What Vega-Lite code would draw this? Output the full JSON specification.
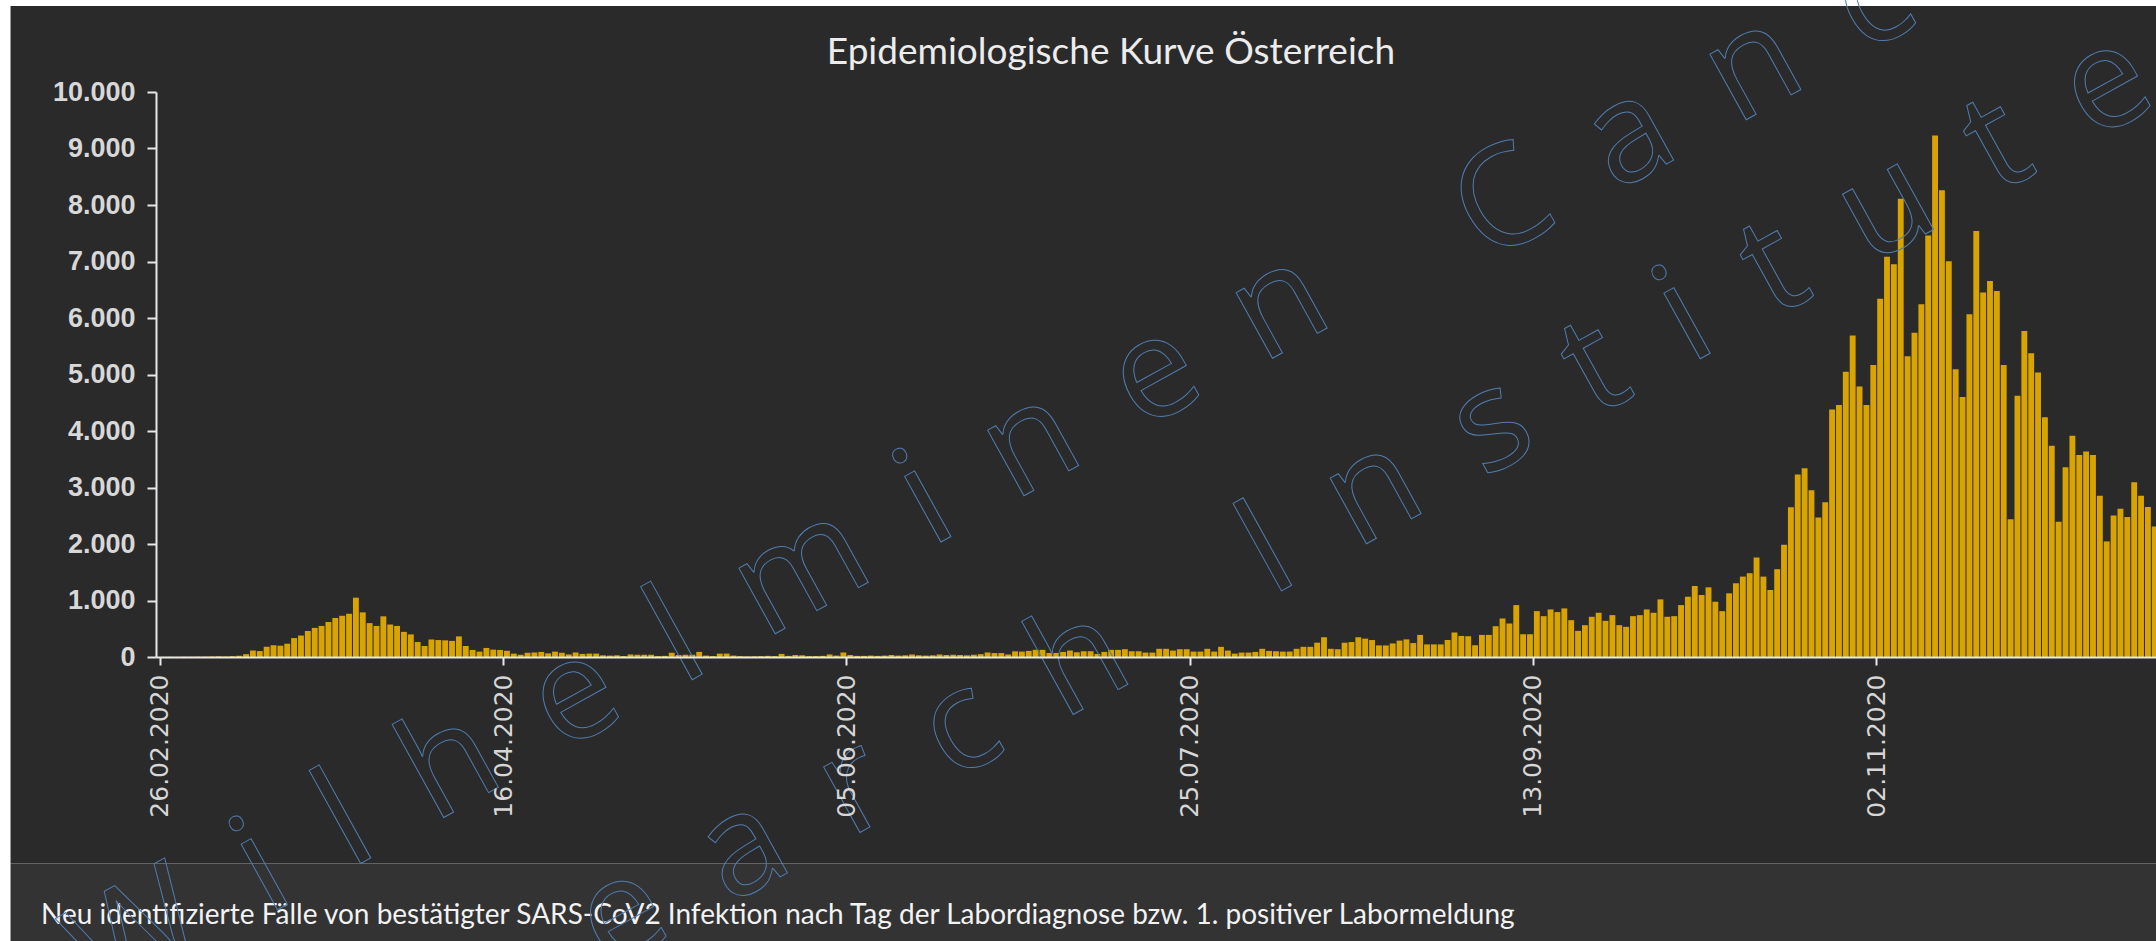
{
  "$schema": "https://vega.github.io/schema/vega-lite/v6.json",
  "background": "#ffffff",
  "autosize": {"type": "none"},
  "padding": {"left": 156, "top": 92, "right": 0, "bottom": 284},
  "width": 2000,
  "height": 565,
  "config": {
    "locale": {"number": {"decimal": ",", "thousands": ".", "grouping": [3], "currency": ["", " €"]}},
    "view": {"stroke": null},
    "font": "Lato"
  },
  "layer": [
    {
      "data": {"values": [{}]},
      "mark": {"type": "rect", "color": "#2a2a2a", "clip": false},
      "encoding": {
        "x": {"datum": {"year": 2020, "month": 2, "date": 4, "hours": 6, "minutes": 30, "utc": true}},
        "x2": {"datum": {"year": 2020, "month": 12, "date": 31, "utc": true}},
        "y": {"datum": 11522},
        "y2": {"datum": -3655}
      }
    },
    {
      "data": {"values": [{}]},
      "mark": {"type": "rect", "color": "#333333", "clip": false},
      "encoding": {
        "x": {"datum": {"year": 2020, "month": 2, "date": 4, "hours": 6, "minutes": 30, "utc": true}},
        "x2": {"datum": {"year": 2020, "month": 12, "date": 31, "utc": true}},
        "y": {"datum": -3655},
        "y2": {"datum": -5400}
      }
    },
    {
      "data": {
        "values": [
          {"d": "2020-02-26", "n": 2}, {"d": "2020-02-27", "n": 3}, {"d": "2020-02-28", "n": 2}, {"d": "2020-02-29", "n": 4},
          {"d": "2020-03-01", "n": 4}, {"d": "2020-03-02", "n": 5}, {"d": "2020-03-03", "n": 6}, {"d": "2020-03-04", "n": 8},
          {"d": "2020-03-05", "n": 12}, {"d": "2020-03-06", "n": 8}, {"d": "2020-03-07", "n": 14}, {"d": "2020-03-08", "n": 22},
          {"d": "2020-03-09", "n": 50}, {"d": "2020-03-10", "n": 115}, {"d": "2020-03-11", "n": 105}, {"d": "2020-03-12", "n": 180},
          {"d": "2020-03-13", "n": 210}, {"d": "2020-03-14", "n": 200}, {"d": "2020-03-15", "n": 235}, {"d": "2020-03-16", "n": 335},
          {"d": "2020-03-17", "n": 380}, {"d": "2020-03-18", "n": 460}, {"d": "2020-03-19", "n": 515}, {"d": "2020-03-20", "n": 550},
          {"d": "2020-03-21", "n": 620}, {"d": "2020-03-22", "n": 690}, {"d": "2020-03-23", "n": 730}, {"d": "2020-03-24", "n": 765},
          {"d": "2020-03-25", "n": 1050}, {"d": "2020-03-26", "n": 790}, {"d": "2020-03-27", "n": 600}, {"d": "2020-03-28", "n": 550},
          {"d": "2020-03-29", "n": 720}, {"d": "2020-03-30", "n": 575}, {"d": "2020-03-31", "n": 550},
          {"d": "2020-04-01", "n": 445}, {"d": "2020-04-02", "n": 400}, {"d": "2020-04-03", "n": 265}, {"d": "2020-04-04", "n": 195},
          {"d": "2020-04-05", "n": 310}, {"d": "2020-04-06", "n": 300}, {"d": "2020-04-07", "n": 295}, {"d": "2020-04-08", "n": 285},
          {"d": "2020-04-09", "n": 365}, {"d": "2020-04-10", "n": 195}, {"d": "2020-04-11", "n": 125}, {"d": "2020-04-12", "n": 95},
          {"d": "2020-04-13", "n": 160}, {"d": "2020-04-14", "n": 130}, {"d": "2020-04-15", "n": 125}, {"d": "2020-04-16", "n": 110},
          {"d": "2020-04-17", "n": 60}, {"d": "2020-04-18", "n": 40}, {"d": "2020-04-19", "n": 75}, {"d": "2020-04-20", "n": 80},
          {"d": "2020-04-21", "n": 90}, {"d": "2020-04-22", "n": 65}, {"d": "2020-04-23", "n": 95}, {"d": "2020-04-24", "n": 75},
          {"d": "2020-04-25", "n": 45}, {"d": "2020-04-26", "n": 80}, {"d": "2020-04-27", "n": 55}, {"d": "2020-04-28", "n": 60},
          {"d": "2020-04-29", "n": 60}, {"d": "2020-04-30", "n": 30},
          {"d": "2020-05-01", "n": 25}, {"d": "2020-05-02", "n": 30}, {"d": "2020-05-03", "n": 15}, {"d": "2020-05-04", "n": 45},
          {"d": "2020-05-05", "n": 40}, {"d": "2020-05-06", "n": 40}, {"d": "2020-05-07", "n": 40}, {"d": "2020-05-08", "n": 15},
          {"d": "2020-05-09", "n": 20}, {"d": "2020-05-10", "n": 75}, {"d": "2020-05-11", "n": 35}, {"d": "2020-05-12", "n": 40},
          {"d": "2020-05-13", "n": 40}, {"d": "2020-05-14", "n": 90}, {"d": "2020-05-15", "n": 25}, {"d": "2020-05-16", "n": 15},
          {"d": "2020-05-17", "n": 60}, {"d": "2020-05-18", "n": 60}, {"d": "2020-05-19", "n": 25}, {"d": "2020-05-20", "n": 15},
          {"d": "2020-05-21", "n": 10}, {"d": "2020-05-22", "n": 12}, {"d": "2020-05-23", "n": 15}, {"d": "2020-05-24", "n": 20},
          {"d": "2020-05-25", "n": 15}, {"d": "2020-05-26", "n": 55}, {"d": "2020-05-27", "n": 20}, {"d": "2020-05-28", "n": 35},
          {"d": "2020-05-29", "n": 30}, {"d": "2020-05-30", "n": 15}, {"d": "2020-05-31", "n": 15},
          {"d": "2020-06-01", "n": 20}, {"d": "2020-06-02", "n": 45}, {"d": "2020-06-03", "n": 25}, {"d": "2020-06-04", "n": 80},
          {"d": "2020-06-05", "n": 35}, {"d": "2020-06-06", "n": 20}, {"d": "2020-06-07", "n": 20}, {"d": "2020-06-08", "n": 25},
          {"d": "2020-06-09", "n": 20}, {"d": "2020-06-10", "n": 25}, {"d": "2020-06-11", "n": 35}, {"d": "2020-06-12", "n": 25},
          {"d": "2020-06-13", "n": 30}, {"d": "2020-06-14", "n": 45}, {"d": "2020-06-15", "n": 30}, {"d": "2020-06-16", "n": 25},
          {"d": "2020-06-17", "n": 30}, {"d": "2020-06-18", "n": 45}, {"d": "2020-06-19", "n": 35}, {"d": "2020-06-20", "n": 40},
          {"d": "2020-06-21", "n": 35}, {"d": "2020-06-22", "n": 30}, {"d": "2020-06-23", "n": 40}, {"d": "2020-06-24", "n": 50},
          {"d": "2020-06-25", "n": 80}, {"d": "2020-06-26", "n": 70}, {"d": "2020-06-27", "n": 70}, {"d": "2020-06-28", "n": 45},
          {"d": "2020-06-29", "n": 100}, {"d": "2020-06-30", "n": 96},
          {"d": "2020-07-01", "n": 108}, {"d": "2020-07-02", "n": 127}, {"d": "2020-07-03", "n": 127}, {"d": "2020-07-04", "n": 72},
          {"d": "2020-07-05", "n": 72}, {"d": "2020-07-06", "n": 90}, {"d": "2020-07-07", "n": 114}, {"d": "2020-07-08", "n": 84},
          {"d": "2020-07-09", "n": 102}, {"d": "2020-07-10", "n": 102}, {"d": "2020-07-11", "n": 54}, {"d": "2020-07-12", "n": 90},
          {"d": "2020-07-13", "n": 126}, {"d": "2020-07-14", "n": 126}, {"d": "2020-07-15", "n": 138}, {"d": "2020-07-16", "n": 102},
          {"d": "2020-07-17", "n": 102}, {"d": "2020-07-18", "n": 78}, {"d": "2020-07-19", "n": 78}, {"d": "2020-07-20", "n": 145},
          {"d": "2020-07-21", "n": 145}, {"d": "2020-07-22", "n": 114}, {"d": "2020-07-23", "n": 138}, {"d": "2020-07-24", "n": 138},
          {"d": "2020-07-25", "n": 96}, {"d": "2020-07-26", "n": 96}, {"d": "2020-07-27", "n": 145}, {"d": "2020-07-28", "n": 96},
          {"d": "2020-07-29", "n": 180}, {"d": "2020-07-30", "n": 114}, {"d": "2020-07-31", "n": 60},
          {"d": "2020-08-01", "n": 78}, {"d": "2020-08-02", "n": 78}, {"d": "2020-08-03", "n": 90}, {"d": "2020-08-04", "n": 145},
          {"d": "2020-08-05", "n": 108}, {"d": "2020-08-06", "n": 102}, {"d": "2020-08-07", "n": 96}, {"d": "2020-08-08", "n": 96},
          {"d": "2020-08-09", "n": 145}, {"d": "2020-08-10", "n": 180}, {"d": "2020-08-11", "n": 180}, {"d": "2020-08-12", "n": 253},
          {"d": "2020-08-13", "n": 350}, {"d": "2020-08-14", "n": 145}, {"d": "2020-08-15", "n": 138}, {"d": "2020-08-16", "n": 253},
          {"d": "2020-08-17", "n": 265}, {"d": "2020-08-18", "n": 350}, {"d": "2020-08-19", "n": 325}, {"d": "2020-08-20", "n": 300},
          {"d": "2020-08-21", "n": 205}, {"d": "2020-08-22", "n": 205}, {"d": "2020-08-23", "n": 240}, {"d": "2020-08-24", "n": 290},
          {"d": "2020-08-25", "n": 312}, {"d": "2020-08-26", "n": 247}, {"d": "2020-08-27", "n": 391}, {"d": "2020-08-28", "n": 223},
          {"d": "2020-08-29", "n": 223}, {"d": "2020-08-30", "n": 223}, {"d": "2020-08-31", "n": 301},
          {"d": "2020-09-01", "n": 434}, {"d": "2020-09-02", "n": 373}, {"d": "2020-09-03", "n": 368}, {"d": "2020-09-04", "n": 208},
          {"d": "2020-09-05", "n": 391}, {"d": "2020-09-06", "n": 391}, {"d": "2020-09-07", "n": 545}, {"d": "2020-09-08", "n": 682},
          {"d": "2020-09-09", "n": 593}, {"d": "2020-09-10", "n": 919}, {"d": "2020-09-11", "n": 403}, {"d": "2020-09-12", "n": 403},
          {"d": "2020-09-13", "n": 812}, {"d": "2020-09-14", "n": 723}, {"d": "2020-09-15", "n": 842}, {"d": "2020-09-16", "n": 795},
          {"d": "2020-09-17", "n": 860}, {"d": "2020-09-18", "n": 652}, {"d": "2020-09-19", "n": 462}, {"d": "2020-09-20", "n": 563},
          {"d": "2020-09-21", "n": 712}, {"d": "2020-09-22", "n": 783}, {"d": "2020-09-23", "n": 640}, {"d": "2020-09-24", "n": 741},
          {"d": "2020-09-25", "n": 563}, {"d": "2020-09-26", "n": 534}, {"d": "2020-09-27", "n": 723}, {"d": "2020-09-28", "n": 741},
          {"d": "2020-09-29", "n": 842}, {"d": "2020-09-30", "n": 783},
          {"d": "2020-10-01", "n": 1020}, {"d": "2020-10-02", "n": 712}, {"d": "2020-10-03", "n": 723}, {"d": "2020-10-04", "n": 919},
          {"d": "2020-10-05", "n": 1067}, {"d": "2020-10-06", "n": 1257}, {"d": "2020-10-07", "n": 1097}, {"d": "2020-10-08", "n": 1233},
          {"d": "2020-10-09", "n": 978}, {"d": "2020-10-10", "n": 812}, {"d": "2020-10-11", "n": 1127}, {"d": "2020-10-12", "n": 1305},
          {"d": "2020-10-13", "n": 1423}, {"d": "2020-10-14", "n": 1483}, {"d": "2020-10-15", "n": 1761}, {"d": "2020-10-16", "n": 1423},
          {"d": "2020-10-17", "n": 1186}, {"d": "2020-10-18", "n": 1554}, {"d": "2020-10-19", "n": 1987}, {"d": "2020-10-20", "n": 2651},
          {"d": "2020-10-21", "n": 3232}, {"d": "2020-10-22", "n": 3340}, {"d": "2020-10-23", "n": 2950}, {"d": "2020-10-24", "n": 2470},
          {"d": "2020-10-25", "n": 2741}, {"d": "2020-10-26", "n": 4380}, {"d": "2020-10-27", "n": 4459}, {"d": "2020-10-28", "n": 5049},
          {"d": "2020-10-29", "n": 5692}, {"d": "2020-10-30", "n": 4787}, {"d": "2020-10-31", "n": 4459},
          {"d": "2020-11-01", "n": 5167}, {"d": "2020-11-02", "n": 6341}, {"d": "2020-11-03", "n": 7082}, {"d": "2020-11-04", "n": 6950},
          {"d": "2020-11-05", "n": 8111}, {"d": "2020-11-06", "n": 5324}, {"d": "2020-11-07", "n": 5737}, {"d": "2020-11-08", "n": 6242},
          {"d": "2020-11-09", "n": 7462}, {"d": "2020-11-10", "n": 9232}, {"d": "2020-11-11", "n": 8262}, {"d": "2020-11-12", "n": 7003},
          {"d": "2020-11-13", "n": 5095}, {"d": "2020-11-14", "n": 4603}, {"d": "2020-11-15", "n": 6065}, {"d": "2020-11-16", "n": 7541},
          {"d": "2020-11-17", "n": 6452}, {"d": "2020-11-18", "n": 6655}, {"d": "2020-11-19", "n": 6478}, {"d": "2020-11-20", "n": 5167},
          {"d": "2020-11-21", "n": 2439}, {"d": "2020-11-22", "n": 4623}, {"d": "2020-11-23", "n": 5770}, {"d": "2020-11-24", "n": 5377},
          {"d": "2020-11-25", "n": 5036}, {"d": "2020-11-26", "n": 4242}, {"d": "2020-11-27", "n": 3738}, {"d": "2020-11-28", "n": 2393},
          {"d": "2020-11-29", "n": 3357}, {"d": "2020-11-30", "n": 3915},
          {"d": "2020-12-01", "n": 3574}, {"d": "2020-12-02", "n": 3639}, {"d": "2020-12-03", "n": 3574}, {"d": "2020-12-04", "n": 2852},
          {"d": "2020-12-05", "n": 2046}, {"d": "2020-12-06", "n": 2505}, {"d": "2020-12-07", "n": 2623}, {"d": "2020-12-08", "n": 2479},
          {"d": "2020-12-09", "n": 3095}, {"d": "2020-12-10", "n": 2852}, {"d": "2020-12-11", "n": 2656}, {"d": "2020-12-12", "n": 2308}
        ]
      },
      "mark": {"type": "bar", "color": "#d9a400", "clip": true},
      "encoding": {
        "x": {
          "field": "d",
          "type": "temporal",
          "timeUnit": "utcyearmonthdate",
          "scale": {
            "type": "utc",
            "domain": [
              {"year": 2020, "month": 2, "date": 25, "hours": 11, "utc": true},
              {"year": 2020, "month": 12, "date": 12, "hours": 18, "utc": true}
            ]
          },
          "axis": {
            "title": null,
            "grid": false,
            "zindex": 1,
            "values": [
              {"year": 2020, "month": 2, "date": 26, "utc": true},
              {"year": 2020, "month": 4, "date": 16, "utc": true},
              {"year": 2020, "month": 6, "date": 5, "utc": true},
              {"year": 2020, "month": 7, "date": 25, "utc": true},
              {"year": 2020, "month": 9, "date": 13, "utc": true},
              {"year": 2020, "month": 11, "date": 2, "utc": true}
            ],
            "labelExpr": "utcFormat(datum.value, '%d.%m.%Y')",
            "labelAngle": -90,
            "labelFont": "DejaVu Sans",
            "labelFontSize": 25,
            "labelColor": "#d6d6d6",
            "labelPadding": 9,
            "labelFlush": false,
            "labelOverlap": false,
            "tickColor": "#e8e8e8",
            "tickSize": 8,
            "tickWidth": 2,
            "domainColor": "#e8e8e8",
            "domainWidth": 2
          }
        },
        "y": {
          "field": "n",
          "type": "quantitative",
          "scale": {"domain": [0, 10000], "nice": false},
          "axis": {
            "title": null,
            "zindex": 1,
            "values": [0, 1000, 2000, 3000, 4000, 5000, 6000, 7000, 8000, 9000, 10000],
            "format": ",d",
            "labelFont": "Liberation Sans",
            "labelFontWeight": "bold",
            "labelFontSize": 27,
            "labelColor": "#d8d8d8",
            "labelPadding": 12,
            "tickColor": "#e8e8e8",
            "tickSize": 9,
            "tickWidth": 2,
            "domainColor": "#e8e8e8",
            "domainWidth": 2,
            "gridColor": "#dcdcdc",
            "gridWidth": 2
          }
        }
      }
    },
    {
      "data": {"values": [{"t": "Epidemiologische Kurve Österreich"}]},
      "mark": {"type": "text", "align": "center", "baseline": "alphabetic", "font": "Lato", "fontSize": 37, "color": "#ececec", "clip": false},
      "encoding": {
        "x": {"datum": {"year": 2020, "month": 7, "date": 13, "hours": 13, "utc": true}},
        "y": {"datum": 10487},
        "text": {"field": "t"}
      }
    },
    {
      "data": {"values": [{"t": "Neu identifizierte Fälle von bestätigter SARS-CoV2 Infektion nach Tag der Labordiagnose bzw. 1. positiver Labormeldung"}]},
      "mark": {"type": "text", "align": "left", "baseline": "alphabetic", "font": "Lato", "fontSize": 28, "color": "#f2f2f2", "clip": false},
      "encoding": {
        "x": {"datum": {"year": 2020, "month": 2, "date": 8, "hours": 17, "utc": true}},
        "y": {"datum": -4730},
        "text": {"field": "t"}
      }
    },
    {
      "data": {"values": [{"w": "W\u00a0\u2006i\u00a0\u2006l\u00a0\u2006h\u00a0\u2006e\u00a0\u2006l\u00a0\u2006m\u00a0\u2006i\u00a0\u2006n\u00a0\u2006e\u00a0\u2006n"}]},
      "mark": {"type": "text", "align": "center", "baseline": "middle", "angle": 331, "font": "Open Sans", "fontSize": 140, "fillOpacity": 0, "stroke": "#4f7db0", "strokeWidth": 1, "clip": false},
      "encoding": {
        "x": {"datum": {"year": 2020, "month": 5, "date": 14, "hours": 13, "utc": true}},
        "y": {"datum": 514},
        "text": {"field": "w"}
      }
    },
    {
      "data": {"values": [{"w": "C\u00a0\u2006a\u00a0\u2006n\u00a0\u2006c\u00a0\u2006e\u00a0\u2006r"}]},
      "mark": {"type": "text", "align": "center", "baseline": "middle", "angle": 331, "font": "Open Sans", "fontSize": 140, "fillOpacity": 0, "stroke": "#4f7db0", "strokeWidth": 1, "clip": false},
      "encoding": {
        "x": {"datum": {"year": 2020, "month": 10, "date": 21, "hours": 5, "utc": true}},
        "y": {"datum": 10841},
        "text": {"field": "w"}
      }
    },
    {
      "data": {"values": [{"w": "R\u00a0\u2006e\u00a0\u2006s\u00a0\u2006e\u00a0\u2006a\u00a0\u2006r\u00a0\u2006c\u00a0\u2006h"}]},
      "mark": {"type": "text", "align": "center", "baseline": "middle", "angle": 331, "font": "Open Sans", "fontSize": 140, "fillOpacity": 0, "stroke": "#4f7db0", "strokeWidth": 1, "clip": false},
      "encoding": {
        "x": {"datum": {"year": 2020, "month": 5, "date": 10, "hours": 18, "utc": true}},
        "y": {"datum": -4092},
        "text": {"field": "w"}
      }
    },
    {
      "data": {"values": [{"w": "I\u00a0\u2006n\u00a0\u2006s\u00a0\u2006t\u00a0\u2006i\u00a0\u2006t\u00a0\u2006u\u00a0\u2006t\u00a0\u2006e"}]},
      "mark": {"type": "text", "align": "center", "baseline": "middle", "angle": 331, "font": "Open Sans", "fontSize": 140, "fillOpacity": 0, "stroke": "#4f7db0", "strokeWidth": 1, "clip": false},
      "encoding": {
        "x": {"datum": {"year": 2020, "month": 10, "date": 6, "hours": 14, "utc": true}},
        "y": {"datum": 6076},
        "text": {"field": "w"}
      }
    }
  ]
}
